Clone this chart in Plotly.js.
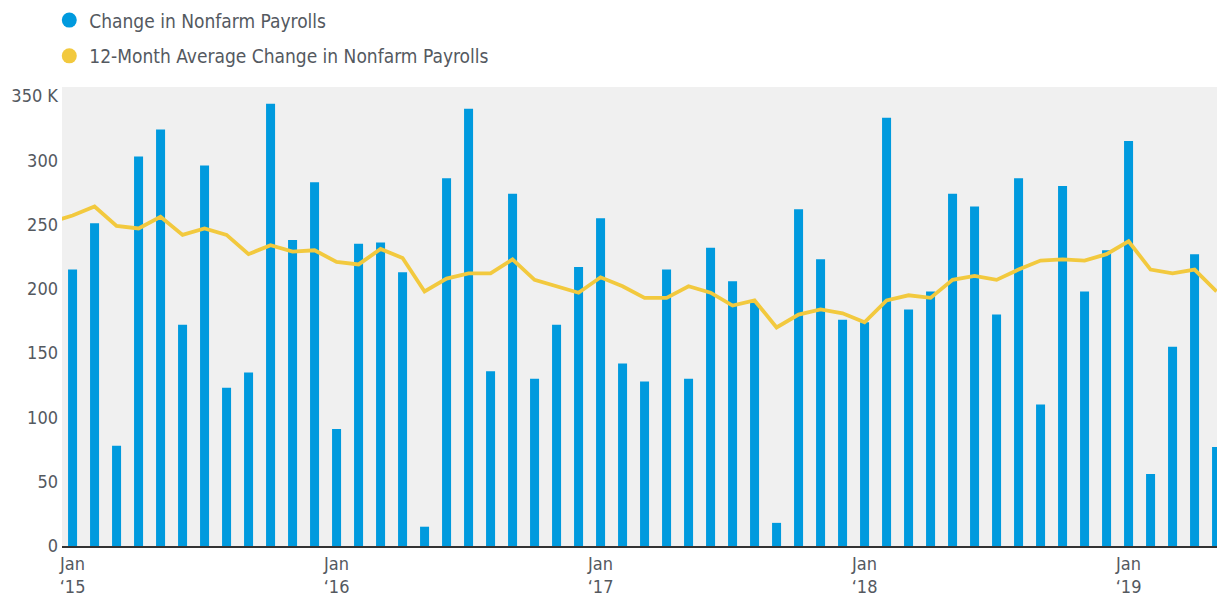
<!DOCTYPE html>
<html>
<head>
<meta charset="utf-8">
<script src="https://cdn.plot.ly/plotly-3.0.1.min.js"></script>
<style>html,body{margin:0;padding:0;background:#fff;}#chart{width:1217px;height:596px;}</style>
</head>
<body>
<div id="chart"></div>
<script>
// Months of the bar series: Jan 2015 .. May 2019
const barMonths = [
  "2015-01","2015-02","2015-03","2015-04","2015-05","2015-06","2015-07","2015-08","2015-09","2015-10","2015-11","2015-12",
  "2016-01","2016-02","2016-03","2016-04","2016-05","2016-06","2016-07","2016-08","2016-09","2016-10","2016-11","2016-12",
  "2017-01","2017-02","2017-03","2017-04","2017-05","2017-06","2017-07","2017-08","2017-09","2017-10","2017-11","2017-12",
  "2018-01","2018-02","2018-03","2018-04","2018-05","2018-06","2018-07","2018-08","2018-09","2018-10","2018-11","2018-12",
  "2019-01","2019-02","2019-03","2019-04","2019-05"
];
// Change in Nonfarm Payrolls (thousands)
const payrollChange = [
  215, 251, 78, 303, 324, 172, 296, 123, 135, 344, 238, 283,
  91, 235, 236, 213, 15, 286, 340, 136, 274, 130, 172, 217,
  255, 142, 128, 215, 130, 232, 206, 189, 18, 262, 223, 176,
  174, 333, 184, 198, 274, 264, 180, 286, 110, 280, 198, 230,
  315, 56, 155, 227, 77
];
// Months of the 12-month average series: Dec 2014 .. May 2019
const avgMonths = ["2014-12"].concat(barMonths);
// 12-Month Average Change in Nonfarm Payrolls (thousands)
const avgChange = [
  252,
  257, 264, 249, 247, 256, 242, 247, 242, 227, 234, 229, 230,
  221, 219, 231, 224, 198, 208, 212, 212, 223, 207, 202, 197,
  209, 202, 193, 193, 202, 197, 187, 191, 170, 180, 184, 181,
  174, 191, 195, 193, 207, 210, 207, 215, 222, 223, 222, 227,
  237, 215, 212, 215, 198
];
const yTickVals = [0, 50, 100, 150, 200, 250, 300, 350];
const yTickText = ["0", "50", "100", "150", "200", "250", "300", "350 K"];
const xTickMonths = ["2015-01", "2016-01", "2017-01", "2018-01", "2019-01"];
const xTickText = ["Jan<br>‘15", "Jan<br>‘16", "Jan<br>‘17", "Jan<br>‘18", "Jan<br>‘19"];
const seriesNames = ["Change in Nonfarm Payrolls", "12-Month Average Change in Nonfarm Payrolls"];

// month string -> month index relative to Jan 2015
function mIdx(s) { const p = s.split("-"); return (parseInt(p[0]) - 2015) * 12 + parseInt(p[1]) - 1; }

const BLUE = "#009ADE";
const YELLOW = "#F2C93E";
const FONT = "'Liberation Sans Narrow', 'DejaVu Sans Condensed', 'Roboto', sans-serif";
const TXT = "#54595f";

const traces = [
  {
    type: "bar", x: barMonths.map(mIdx), y: payrollChange, width: 0.41,
    marker: {color: BLUE}, showlegend: false, hoverinfo: "y"
  },
  {
    type: "scatter", mode: "lines", x: avgMonths.map(mIdx), y: avgChange,
    line: {color: YELLOW, width: 3.8}, showlegend: false
  },
  { type: "scatter", mode: "markers", x: [null], y: [null], name: seriesNames[0],
    marker: {color: BLUE, size: 15, symbol: "circle"}, legend: "legend", showlegend: true },
  { type: "scatter", mode: "markers", x: [null], y: [null], name: seriesNames[1],
    marker: {color: YELLOW, size: 15, symbol: "circle"}, legend: "legend2", showlegend: true }
];

const legendBase = {
  xref: "container", yref: "container", xanchor: "left", yanchor: "middle",
  bgcolor: "rgba(0,0,0,0)", font: {family: FONT, size: 19, color: TXT},
  itemwidth: 30, borderwidth: 0
};

const layout = {
  width: 1217, height: 596,
  margin: {l: 62, r: 0, t: 87, b: 50, pad: 0, autoexpand: false},
  paper_bgcolor: "#ffffff", plot_bgcolor: "#f0f0f0",
  font: {family: FONT, color: TXT},
  xaxis: {
    range: [-0.48, 52.02], showgrid: false, zeroline: false, automargin: false,
    tickmode: "array", tickvals: xTickMonths.map(mIdx), ticktext: xTickText,
    ticks: "", tickfont: {family: FONT, size: 18, color: TXT},
    showline: true, linecolor: "#333333", linewidth: 2
  },
  yaxis: {
    range: [0, 357], showgrid: false, zeroline: false, automargin: false,
    tickmode: "array", tickvals: yTickVals, ticktext: yTickText, ticklabelstandoff: 3,
    ticks: "", tickfont: {family: FONT, size: 18, color: TXT}, showline: false
  },
  bargap: 0.59,
  legend: Object.assign({}, legendBase, {x: 0.0405, y: 0.966}),
  legend2: Object.assign({}, legendBase, {x: 0.0405, y: 0.906}),
  showlegend: true
};

Plotly.newPlot("chart", traces, layout, {displayModeBar: false, staticPlot: true});
</script>
</body>
</html>
